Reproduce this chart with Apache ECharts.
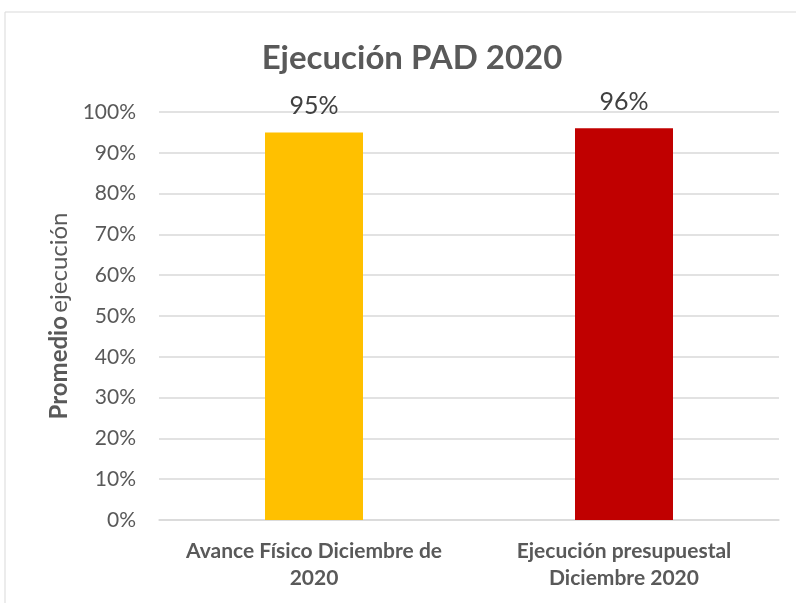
<!DOCTYPE html>
<html>
<head>
<meta charset="utf-8">
<script src="https://cdn.jsdelivr.net/npm/echarts@6/dist/echarts.min.js"></script>
<style>
  html, body { margin: 0; padding: 0; background: #fff; }
  #main { width: 796px; height: 603px; }
</style>
</head>
<body>
<div id="main"></div>
<script>
// datos
var categorias = ['Avance Físico Diciembre de\n2020', 'Ejecución presupuestal\nDiciembre 2020'];
var valores = [95, 96];
var colores = ['#FFC000', '#C00000'];

var fuente = 'Lato';
var myChart = echarts.init(document.getElementById('main'));

var option = {
    backgroundColor: '#fff',
    animation: false,
    graphic: [{
        type: 'rect',
        shape: { x: 5, y: 12, width: 800, height: 600 },
        style: { fill: 'none', stroke: '#d9d9d9', lineWidth: 1 }
    }],
    title: {
        text: 'Ejecución PAD 2020',
        left: 407,
        textAlign: 'center',
        top: 37,
        textStyle: { fontFamily: fuente, fontSize: 33, fontWeight: 'bold', color: '#595959' }
    },
    grid: { left: 159, right: 17, top: 112, bottom: 83 },
    xAxis: {
        type: 'category',
        data: categorias,
        axisTick: { show: false },
        axisLine: { lineStyle: { color: '#d9d9d9', width: 1.5 } },
        axisLabel: {
            fontFamily: fuente, fontSize: 21, fontWeight: 'bold', color: '#595959',
            lineHeight: 27, margin: 18, interval: 0
        }
    },
    yAxis: {
        type: 'value',
        min: 0,
        max: 100,
        interval: 10,
        name: '{b|Promedio} {n|ejecución}',
        nameLocation: 'middle',
        nameGap: 87,
        nameRotate: 90,
        nameTextStyle: {
            rich: {
                b: { fontFamily: fuente, fontSize: 24, fontWeight: 'bold', color: '#595959' },
                n: { fontFamily: fuente, fontSize: 24, color: '#595959' }
            }
        },
        axisLine: { show: false },
        axisTick: { show: false },
        axisLabel: {
            formatter: '{value}%',
            fontFamily: fuente, fontSize: 21, color: '#595959', margin: 23
        },
        splitLine: { lineStyle: { color: '#d9d9d9', width: 1.5 } }
    },
    series: [{
        type: 'bar',
        barWidth: 98,
        data: valores.map(function(v, i) {
            return { value: v, itemStyle: { color: colores[i] } };
        }),
        label: {
            show: true,
            position: 'top',
            distance: 14,
            formatter: '{c}%',
            fontFamily: fuente, fontSize: 25, color: '#404040'
        }
    }]
};
myChart.setOption(option);
</script>
</body>
</html>
